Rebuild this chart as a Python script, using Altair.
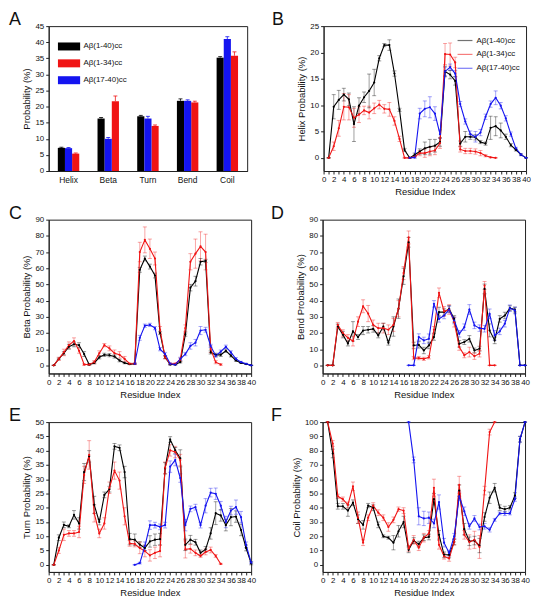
import altair as alt
import pandas as pd

FONT = "Liberation Sans"
S1, S2, S3 = "Aβ(1-40)cc", "Aβ(1-34)cc", "Aβ(17-40)cc"
SERIES = [S1, S2, S3]
COLORS = ["#000000", "#f01414", "#1414f0"]

# ---------------- Panel A: overall probabilities ----------------
categories = ["Helix", "Beta", "Turn", "Bend", "Coil"]
bar_1_40 = [7.2, 16.3, 17.0, 21.8, 35.2]
bar_1_40_err = [0.2, 0.3, 0.3, 0.6, 0.3]
bar_1_34 = [5.4, 21.7, 14.0, 21.3, 35.8]
bar_1_34_err = [0.2, 1.6, 0.3, 0.4, 1.2]
bar_17_40 = [7.1, 10.0, 16.3, 21.8, 41.0]
bar_17_40_err = [0.2, 0.4, 0.7, 0.3, 0.7]

# ---------------- residue indices ----------------
res_1_40 = [1, 2, 3, 4, 5, 6, 7, 8, 9, 10, 11, 12, 13, 14, 15, 16, 17, 18, 19, 20,
            21, 22, 23, 24, 25, 26, 27, 28, 29, 30, 31, 32, 33, 34, 35, 36, 37, 38, 39, 40]
res_1_34 = [1, 2, 3, 4, 5, 6, 7, 8, 9, 10, 11, 12, 13, 14, 15, 16, 17, 18, 19, 20,
            21, 22, 23, 24, 25, 26, 27, 28, 29, 30, 31, 32, 33, 34]
res_17_40 = [17, 18, 19, 20, 21, 22, 23, 24, 25, 26, 27, 28, 29, 30, 31, 32, 33, 34, 35, 36,
             37, 38, 39, 40]

# ---------------- Panel B: helix ----------------
helix_1_40 = [0, 9.7, 11.0, 12.0, 11.1, 6.4, 9.9, 11.5, 12.7, 14.3, 18.9, 21.4, 21.4, 16.0, 9.1, 1.5,
              0, 0.6, 1.2, 1.8, 2.1, 2.3, 3.0, 16.4, 15.8, 14.6, 2.7, 4.0, 4.0, 3.9, 3.0, 2.7,
              5.7, 6.0, 5.2, 4.0, 2.4, 1.5, 0.6, 0]
helix_1_40_err = [0, 2.3, 1.8, 1.2, 1.2, 3.3, 1.5, 1.0, 3.2, 2.5, 0.5, 0.3, 1.0, 0.5, 0.3, 0.3,
                  0, 0.3, 0.5, 1.2, 1.4, 1.2, 0.8, 1.0, 0.8, 0.8, 0.5, 1.0, 0.5, 0.5, 0.3, 0.3,
                  2.2, 1.8, 1.4, 0.5, 0.3, 0.2, 0.1, 0]
helix_1_34 = [0, 2.2, 5.6, 9.7, 9.6, 7.6, 8.2, 9.0, 8.6, 9.4, 10.1, 9.3, 9.2, 7.0, 3.6, 0,
              0, 0.2, 0.9, 0.9, 1.2, 1.4, 2.8, 19.7, 19.6, 18.1, 1.6, 1.3, 1.3, 1.2, 0.9, 0.4,
              0.1, 0]
helix_1_34_err = [0, 0.8, 1.5, 2.5, 2.4, 1.8, 1.5, 0.8, 1.2, 1.0, 0.8, 0.8, 1.3, 0.8, 0.5, 0.1,
                  0.1, 0.1, 0.5, 0.8, 0.8, 0.8, 1.0, 2.0, 2.2, 1.0, 0.5, 0.5, 0.5, 0.5, 0.5, 0.2,
                  0.1, 0]
helix_17_40 = [0, 0.1, 8.4, 9.3, 9.6, 8.4, 4.5, 16.4, 17.2, 16.0, 10.2, 6.9, 4.5, 4.0, 4.8, 7.8,
               10.2, 11.4, 9.9, 7.5, 4.5, 1.8, 0.6, 0]
helix_17_40_err = [0, 0.2, 1.0, 1.5, 2.0, 1.3, 0.8, 0.8, 0.6, 0.6, 0.5, 0.5, 0.6, 1.0, 0.6, 0.5,
                   0.6, 1.3, 0.6, 0.5, 0.4, 0.2, 0.2, 0]

# ---------------- Panel C: beta ----------------
beta_1_40 = [0, 4, 7.5, 11.5, 13, 12.5, 7, 0.5, 1.5, 5, 6.5, 6.3, 5.5, 3, 1.5, 0.8,
             1, 59, 66, 61, 55.5, 20, 5, 0.5, 0.5, 2, 19, 48, 52, 64, 64.5, 8,
             6.5, 6.5, 9, 6, 3, 1.5, 0.8, 0]
beta_1_40_err = [0, 0.5, 1, 1.5, 1.5, 1.5, 1.5, 0.5, 0.5, 1, 1, 1, 1, 0.8, 0.5, 0.3,
                 0.3, 1.5, 1.5, 1.5, 1.5, 1, 0.8, 0.3, 0.3, 0.5, 1, 2, 3, 2, 1, 1,
                 1, 1, 1, 0.8, 0.5, 0.3, 0.2, 0]
beta_1_34 = [0, 4, 8, 12.5, 15, 9, 0.5, 0.5, 2, 7.5, 12.5, 10.5, 7.5, 6.5, 4, 1,
             1, 70, 77.5, 72, 66, 22, 5, 1, 1, 3.5, 23, 64, 69, 73.5, 70, 10,
             2, 0.5]
beta_1_34_err = [0, 1, 2, 2, 2, 1.5, 0.5, 0.5, 1, 1.5, 1, 1.5, 2, 2, 1.5, 0.5,
                 0.5, 6, 8, 6, 4, 2, 1, 0.5, 0.5, 1, 2, 5, 9, 9, 11, 2,
                 1, 0.5]
beta_17_40 = [1, 17, 24.5, 25, 23, 10, 7, 1, 0.5, 4, 7, 12, 14, 21.5, 22, 12,
              6, 8.5, 11.5, 8, 4, 2, 1, 0]
beta_17_40_err = [0.3, 1.5, 1, 1, 1, 1, 1, 0.5, 0.3, 1, 1, 2, 2, 2.5, 1.5, 1,
                  1, 1, 1, 1, 0.8, 0.5, 0.3, 0]

# ---------------- Panel D: bend ----------------
bend_1_40 = [0, 0, 24, 19, 13.5, 21, 17.5, 21.5, 22, 22.5, 18.5, 24, 14, 24, 35, 55,
             76, 12.3, 12.7, 9.2, 12.3, 17.5, 32.9, 32.9, 34.9, 28.7, 13.3, 14.4, 16.4, 9.2, 10.3, 47.2,
             21.6, 15.4, 28.7, 30.8, 35.3, 34.5, 0, 0]
bend_1_40_err = [0, 0, 1.5, 2, 1.5, 6, 1.5, 2.5, 2, 2, 1.5, 2, 1.5, 6, 6, 5,
                 3, 2, 2, 2, 2, 2, 3, 2, 2, 2, 2, 1.5, 2, 1.5, 1.5, 3,
                 4, 2, 2, 2, 1.5, 1.5, 0, 0]
bend_1_34 = [0, 0, 25, 20, 17, 15, 27, 36.5, 32, 25, 23, 23, 22, 25, 35, 57,
             79, 4.5, 4.5, 4, 5, 22, 44.8, 33.3, 34.5, 26.7, 11.3, 6.2, 8.2, 5.7, 7.2, 49.3,
             0, 0]
bend_1_34_err = [0, 0, 1.5, 2, 2, 3, 3, 4, 5, 3, 3, 3, 3, 4, 5, 4,
                 4, 1, 1, 1, 1, 2, 3, 3, 3, 3, 2, 1.5, 3, 2, 2, 2.5,
                 0, 0]
bend_17_40 = [0, 0, 17.5, 15.4, 16.4, 38, 28.7, 30.8, 34.5, 27.7, 19.5, 23.6, 34.5, 24.7, 23, 22.6,
              31.8, 18.5, 21, 25.7, 35.3, 33.9, 0, 0]
bend_17_40_err = [0, 0, 2, 2, 3, 2, 2, 2, 2, 2, 2, 2, 3, 2, 2, 2,
                  3, 3, 2, 2, 2, 2, 0, 0]

# ---------------- Panel E: turn ----------------
turn_1_40 = [0, 9.5, 14, 13.5, 17.5, 14.5, 32.5, 38, 21, 15, 24.5, 26.5, 41.5, 41, 32.5, 9,
             8.8, 7.1, 5.9, 8.2, 8.8, 9, 33.8, 43.9, 40.1, 37.3, 7, 8.8, 7.9, 4.2, 5.4, 11,
             18.1, 17.3, 13.9, 16.7, 16.9, 12.2, 5.9, 0.5]
turn_1_40_err = [0, 1, 1, 0.5, 1.5, 2, 3, 2, 3, 1, 1, 1, 1, 1, 2, 2,
                 2, 1, 1, 2, 2, 2, 2, 1, 1, 3, 2, 1.5, 1, 1, 1, 2,
                 4, 2, 2, 3, 2, 2, 1, 0.5]
turn_1_34 = [0, 5, 10.5, 11, 11, 11.5, 31.5, 38.5, 18, 11, 14.5, 27, 33, 29.5, 17, 7.5,
             7.3, 5.9, 4.8, 3.3, 4.2, 4.8, 34, 40.1, 39.5, 36.7, 5.4, 5.6, 4.2, 3.1, 4.5, 5.2,
             3.1, 0.3]
turn_1_34_err = [0, 1, 2, 1, 1, 2, 3, 5, 3, 1.5, 2, 2, 3, 3, 3, 1,
                 1, 2, 2, 2, 2, 2, 2, 2, 2, 2, 3, 1.5, 1, 0.5, 1, 1,
                 0.5, 0.2]
turn_17_40 = [0, 0.6, 6.5, 13.9, 13.9, 13.3, 13.9, 34.4, 36.7, 30.4, 13.9, 19.6, 20.2, 13.9, 20.7, 25.3,
              24.9, 20.7, 15, 19, 20.2, 16.7, 7, 0.8]
turn_17_40_err = [0, 0.3, 1.5, 1.5, 1, 1, 1, 2, 2, 1.5, 2, 1, 1, 1, 2.5, 1.5,
                  2, 1.5, 2, 1.5, 2.5, 2, 1, 0.3]

# ---------------- Panel F: coil ----------------
coil_1_40 = [100, 78, 41, 41, 38, 43.5, 32, 28, 41.5, 40, 28, 20, 19, 15.5, 23.5, 30,
             10.5, 17, 14.5, 19, 19.5, 46, 21, 7, 7, 16, 52, 25, 16.5, 17, 13.5, 33.5,
             47, 54, 40, 39, 40, 48.5, 88, 100]
coil_1_40_err = [0, 3, 2, 2, 4, 2, 3, 3, 1.5, 2, 2, 1, 1, 5, 4, 4,
                 2, 2, 2, 2, 2, 4, 3, 2, 2, 2, 4, 4, 3, 3, 5, 3,
                 4, 3, 2, 2, 1.5, 2, 2, 0]
coil_1_34 = [100, 85, 48, 46, 42, 55, 33, 15.5, 33, 41.5, 36.5, 33, 26.5, 31.5, 39, 38,
             11.5, 17.5, 12, 19, 22, 54, 14, 6, 4.5, 16, 56, 21, 16, 17.5, 12.5, 52,
             93, 100]
coil_1_34_err = [0, 2, 1.5, 1.5, 2, 3, 4, 2, 2, 2, 2, 2, 3, 2, 1.5, 2,
                 2, 3, 2, 3, 2, 6, 3, 2, 2, 2, 6, 3, 5, 6, 8, 3,
                 2, 0]
coil_17_40 = [100, 73.5, 34, 32.5, 33, 29, 44, 15.5, 8.2, 20, 48, 37.5, 27, 32.5, 26.5, 27,
              24.5, 31.5, 36, 36, 36, 46, 88, 100]
coil_17_40_err = [0, 2, 6, 5, 4, 3, 5, 3, 2, 2, 3, 3, 2, 2, 2, 2,
                  1.5, 1, 1, 1.5, 1, 1.5, 2, 0]

TXT = "#111111"
cscale = alt.Scale(domain=SERIES, range=COLORS)
PW = 204  # plot width of the line panels


def long_df(va, ea, vb, eb, vc, ec):
    rows = []
    for name, res, vals, errs in ((S1, res_1_40, va, ea), (S2, res_1_34, vb, eb), (S3, res_17_40, vc, ec)):
        for r, v, e in zip(res, vals, errs):
            rows.append({"res": r, "val": v, "lo": v - e, "hi": v + e, "series": name})
    return pd.DataFrame(rows)


def letter_layer(letter, dx):
    return alt.Chart(pd.DataFrame({"t": [letter]})).mark_text(
        font=FONT, fontSize=18, align="left", baseline="alphabetic", color=TXT
    ).encode(text="t:N", x=alt.value(dx), y=alt.value(-1))


def line_panel(df, ytitle, ydomain, yvalues, letter, dx, h, legend=None):
    x = alt.X("res:Q", scale=alt.Scale(domain=[0, 40], nice=False, zero=False),
              axis=alt.Axis(values=list(range(0, 41)), labelOverlap=False, labelFlush=False,
                            labelExpr="datum.value % 2 == 0 ? datum.label : ''",
                            title="Residue Index"))
    ysc = alt.Scale(domain=ydomain, nice=False, zero=False)
    yax = alt.Axis(values=yvalues, title=ytitle)
    color = alt.Color("series:N", scale=cscale, legend=legend)
    base = alt.Chart(df)
    err = base.mark_rule(strokeWidth=0.7, opacity=0.55).encode(
        x=x, y=alt.Y("lo:Q", scale=ysc, axis=yax, title=ytitle), y2="hi:Q", color=color)
    cap_lo = base.mark_point(shape="M-1,0H1", size=16, strokeWidth=0.7, opacity=0.55).encode(
        x=x, y=alt.Y("lo:Q", scale=ysc, axis=yax, title=ytitle), color=color)
    cap_hi = base.mark_point(shape="M-1,0H1", size=16, strokeWidth=0.7, opacity=0.55).encode(
        x=x, y=alt.Y("hi:Q", scale=ysc, axis=yax, title=ytitle), color=color)
    line = base.mark_line(strokeWidth=1.1, opacity=1).encode(
        x=x, y=alt.Y("val:Q", scale=ysc, axis=yax, title=ytitle), color=color)
    pts = base.mark_circle(size=5, opacity=1).encode(
        x=x, y=alt.Y("val:Q", scale=ysc, axis=yax, title=ytitle), color=color)
    return alt.layer(err, cap_lo, cap_hi, line, pts, letter_layer(letter, dx)).properties(
        width=PW, height=h)


# ---------------- Panel A chart ----------------
bar_rows = []
for name, vals, errs in ((S1, bar_1_40, bar_1_40_err), (S2, bar_1_34, bar_1_34_err), (S3, bar_17_40, bar_17_40_err)):
    for c, v, e in zip(categories, vals, errs):
        bar_rows.append({"cat": c, "val": v, "hi": v + e, "series": name})
dfa = pd.DataFrame(bar_rows)

xa = alt.X("cat:N", sort=categories, scale=alt.Scale(paddingInner=0.46, paddingOuter=0.23),
           axis=alt.Axis(title=None, labelAngle=0, ticks=False, labelFontSize=8.5, labelPadding=5))
xoff = alt.XOffset("series:N", sort=[S1, S3, S2], scale=alt.Scale(paddingInner=0, paddingOuter=0))
ysa = alt.Scale(domain=[0, 45], nice=False)
yaa = alt.Axis(values=[0, 5, 10, 15, 20, 25, 30, 35, 40, 45], title="Probability (%)")
legA = alt.Legend(title=None, orient="top-left", offset=9,
                  symbolType="M-1,-0.36H1V0.36H-1Z", symbolSize=500, symbolStrokeWidth=0,
                  symbolOpacity=1, labelFontSize=8, rowPadding=1, symbolOffset=0, labelOffset=3)
colA = alt.Color("series:N", scale=cscale, legend=legA)
ba = alt.Chart(dfa)
bars = ba.mark_bar(opacity=1).encode(x=xa, xOffset=xoff,
                                     y=alt.Y("val:Q", scale=ysa, axis=yaa, title="Probability (%)"), color=colA)
bar_err = ba.mark_rule(strokeWidth=0.8).encode(x=xa, xOffset=xoff,
                                               y=alt.Y("val:Q", scale=ysa, axis=yaa, title="Probability (%)"),
                                               y2="hi:Q", color=colA)
bar_cap = ba.mark_tick(thickness=0.8, size=4, opacity=1).encode(
    x=xa, xOffset=xoff, y=alt.Y("hi:Q", scale=ysa, axis=yaa, title="Probability (%)"), color=colA)
panelA = alt.layer(bars, bar_err, bar_cap, letter_layer("A", -40)).properties(width=200, height=146)

legB = alt.Legend(title=None, orient="top-right", offset=6, symbolType="stroke",
                  symbolStrokeWidth=1.2, symbolSize=225, labelFontSize=8, rowPadding=1, labelOffset=3)

panelB = line_panel(long_df(helix_1_40, helix_1_40_err, helix_1_34, helix_1_34_err, helix_17_40, helix_17_40_err),
                    "Helix Probability (%)", [-2.5, 25], [0, 5, 10, 15, 20, 25], "B", -52, 146, legB)
panelC = line_panel(long_df(beta_1_40, beta_1_40_err, beta_1_34, beta_1_34_err, beta_17_40, beta_17_40_err),
                    "Beta Probability (%)", [-5, 90], [0, 10, 20, 30, 40, 50, 60, 70, 80, 90], "C", -40, 155)
panelD = line_panel(long_df(bend_1_40, bend_1_40_err, bend_1_34, bend_1_34_err, bend_17_40, bend_17_40_err),
                    "Bend Probability (%)", [-5, 90], [0, 10, 20, 30, 40, 50, 60, 70, 80, 90], "D", -52, 155)
panelE = line_panel(long_df(turn_1_40, turn_1_40_err, turn_1_34, turn_1_34_err, turn_17_40, turn_17_40_err),
                    "Turn Probability (%)", [-2.5, 50], [0, 5, 10, 15, 20, 25, 30, 35, 40, 45, 50], "E", -40, 151)
panelF = line_panel(long_df(coil_1_40, coil_1_40_err, coil_1_34, coil_1_34_err, coil_17_40, coil_17_40_err),
                    "Coil Probability (%)", [-5, 100], [0, 10, 20, 30, 40, 50, 60, 70, 80, 90, 100], "F", -52, 151)

row1 = alt.hconcat(panelA, panelB, spacing=23).resolve_scale(color="independent").resolve_legend(color="independent")
row2 = alt.hconcat(panelC, panelD, spacing=14).resolve_scale(color="independent").resolve_legend(color="independent")
row3 = alt.hconcat(panelE, panelF, spacing=14).resolve_scale(color="independent").resolve_legend(color="independent")

chart = alt.vconcat(row1, row2, row3, spacing=7).resolve_scale(color="independent").resolve_legend(
    color="independent").properties(padding=0).configure(font=FONT).configure_view(
    stroke="#222222", strokeWidth=1).configure_axis(
    labelFont=FONT, titleFont=FONT, labelFontSize=8, titleFontSize=9.5, titleFontWeight="normal",
    labelColor=TXT, titleColor=TXT, tickColor="#222222", domainColor="#222222", tickSize=3,
    labelPadding=2, titlePadding=3, grid=False).configure_legend(
    labelFont=FONT, labelColor=TXT, padding=0)

chart.save("out.html", embed_options={"renderer": "svg", "actions": False})
